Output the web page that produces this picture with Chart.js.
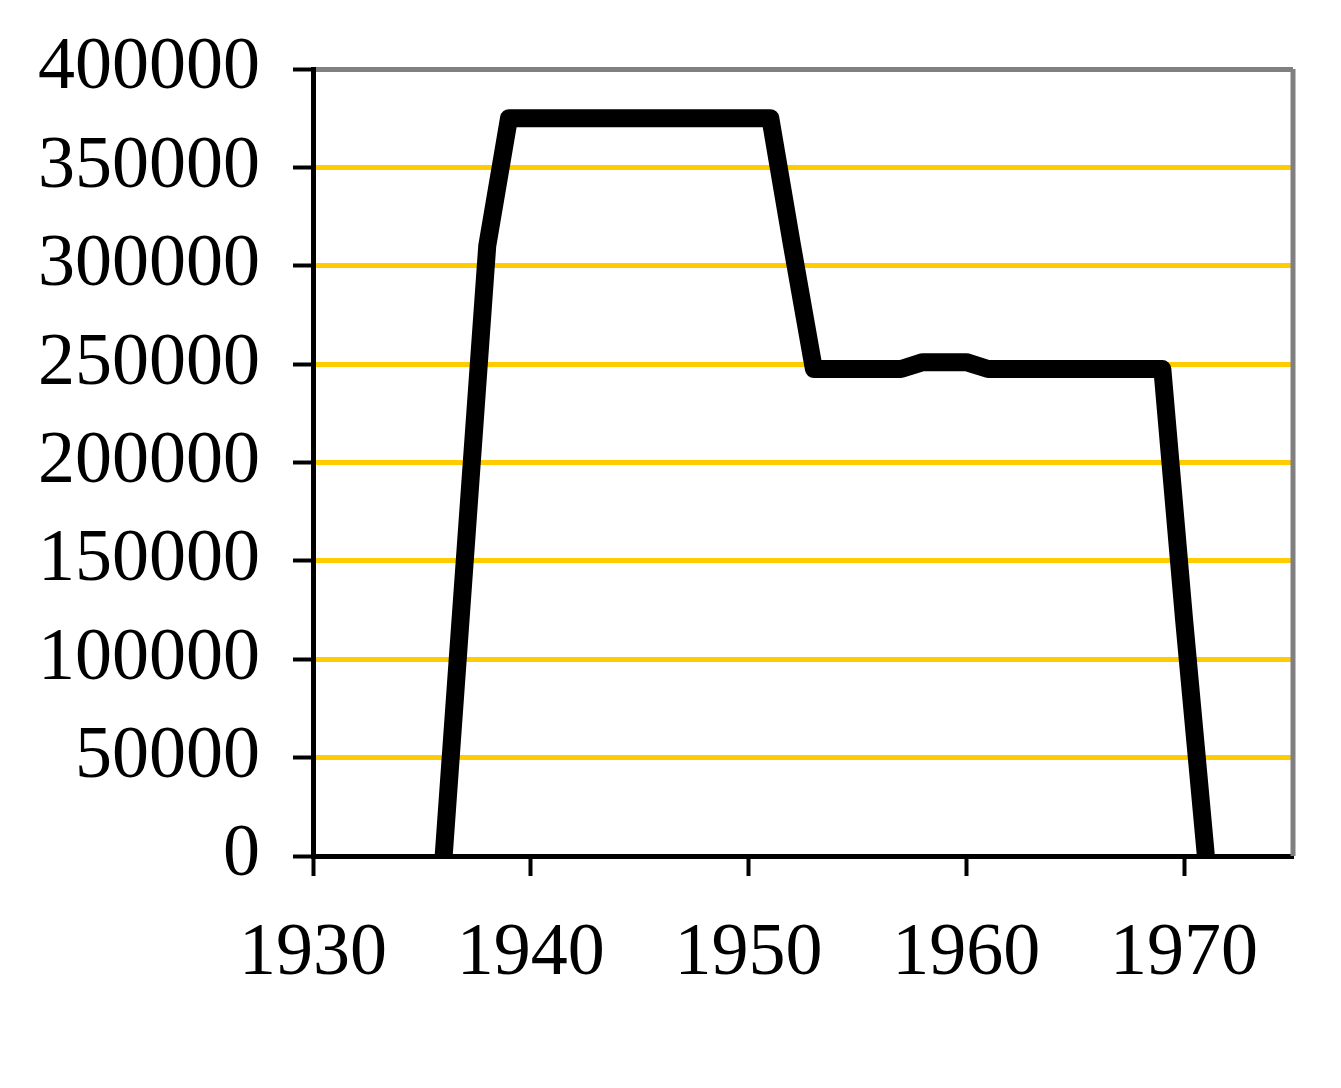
<!DOCTYPE html>
<html>
<head>
<meta charset="utf-8">
<script src="https://cdn.jsdelivr.net/npm/chart.js@4/dist/chart.umd.min.js"></script>
<style>
  html, body { margin: 0; padding: 0; background: #fff; }
  #wrap { width: 1341px; height: 1088px; }
</style>
</head>
<body>
<div id="wrap"><canvas id="chart" width="1341" height="1088"></canvas></div>
<script>
// values
const years = [1936, 1938, 1939, 1951, 1952, 1953, 1957, 1958, 1960, 1961, 1969, 1970, 1971];
const amounts = [0, 310000, 375000, 375000, 310000, 247500, 247500, 251000, 251000, 247500, 247500, 120000, 0];
const xTicks = [1930, 1940, 1950, 1960, 1970];
const yMin = 0;
const yMax = 400000;
const yStep = 50000;

const points = years.map((y, i) => ({ x: y, y: amounts[i] }));

// gray frame on the right side of the plot
const frameRight = {
  id: "frameRight",
  beforeDatasetsDraw(chart) {
    const { ctx, chartArea } = chart;
    ctx.save();
    ctx.strokeStyle = "#808080";
    ctx.lineWidth = 5;
    ctx.beginPath();
    ctx.moveTo(chartArea.right, chartArea.top);
    ctx.lineTo(chartArea.right, chartArea.bottom);
    ctx.stroke();
    ctx.restore();
  },
};

const family = "'Liberation Serif', 'Times New Roman', serif";

new Chart(document.getElementById("chart").getContext("2d"), {
  type: "line",
  data: {
    datasets: [
      {
        data: points,
        borderColor: "#000000",
        borderWidth: 18,
        borderJoinStyle: "round",
        borderCapStyle: "round",
        pointRadius: 0,
        tension: 0,
        fill: false,
      },
    ],
  },
  options: {
    responsive: false,
    animation: false,
    layout: { padding: { top: 69, right: 48, left: 0, bottom: 0 } },
    plugins: {
      legend: { display: false },
      tooltip: { enabled: false },
    },
    scales: {
      x: {
        type: "linear",
        min: 1930,
        max: 1975,
        afterBuildTicks: (scale) => {
          scale.ticks = xTicks.map((v) => ({ value: v }));
        },
        afterFit: (scale) => {
          scale.height = 232;
        },
        ticks: {
          color: "#000",
          font: { family: family, size: 74 },
          padding: 34,
          maxRotation: 0,
          callback: (v) => String(v),
        },
        grid: {
          drawOnChartArea: false,
          drawTicks: true,
          tickLength: 20,
          tickColor: "#000",
          tickWidth: 4,
        },
        border: { color: "#000", width: 5 },
      },
      y: {
        min: yMin,
        max: yMax,
        afterFit: (scale) => {
          scale.width = 313;
        },
        ticks: {
          stepSize: yStep,
          color: "#000",
          // small lineHeight keeps the top label from pushing the plot down
          font: { family: family, size: 74, lineHeight: 0.4 },
          padding: 33,
          callback: (v) => String(v),
        },
        grid: {
          color: (c) => {
            if (c.tick.value === yMax) return "#808080";
            if (c.tick.value === yMin) return "rgba(0,0,0,0)";
            return "#FFCC00";
          },
          lineWidth: 5,
          drawTicks: true,
          tickLength: 20,
          tickColor: "#000",
          tickWidth: 4,
        },
        border: { color: "#000", width: 5 },
      },
    },
  },
  plugins: [frameRight],
});
</script>
</body>
</html>
